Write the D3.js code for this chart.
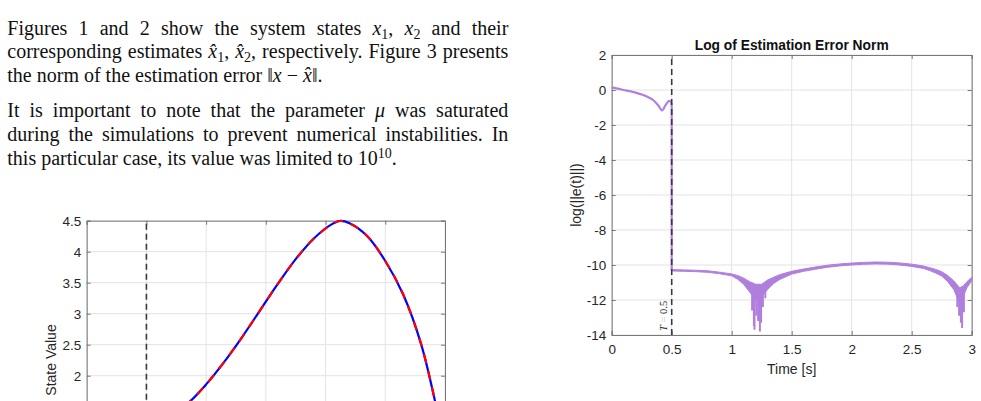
<!DOCTYPE html>
<html>
<head>
<meta charset="utf-8">
<script src="https://cdn.jsdelivr.net/npm/d3@7"></script>
<style>
  body { margin: 0; background: #fff; }
  svg { display: block; }
</style>
</head>
<body>
<div id="vis"></div>
<script>
// ---- data ----
// left figure: state x1 and its estimate (they overlap)
const stateTime = [0.7, 0.85, 1.0, 1.15, 1.3, 1.45, 1.6, 1.75, 1.9, 2.05, 2.12, 2.2, 2.35, 2.5, 2.65, 2.8, 2.92, 3.0];
const stateX1 = [1.36, 1.56, 1.86, 2.22, 2.62, 3.05, 3.48, 3.88, 4.21, 4.44, 4.495, 4.46, 4.25, 3.85, 3.31, 2.51, 1.56, 0.84];
const stateX1Hat = stateX1; // estimate sits on top of the state

const stateYTicks = [0, 0.5, 1, 1.5, 2, 2.5, 3, 3.5, 4, 4.5];
const timeTicks = [0, 0.5, 1, 1.5, 2, 2.5, 3];

// right figure: log of estimation error norm
const preTime = [0, 0.05, 0.1, 0.15, 0.2, 0.25, 0.3, 0.35, 0.39, 0.42, 0.45, 0.48, 0.495, 0.5, 0.5];
const preLogErr = [0.15, 0.08, 0.0, -0.07, -0.15, -0.26, -0.4, -0.6, -0.9, -1.17, -0.85, -0.62, -0.7, -0.95, -10.3];

const bandTime = [0.5, 0.6, 0.7, 0.8, 0.9, 1.0, 1.05, 1.1, 1.15, 1.2, 1.25, 1.3, 1.35, 1.4, 1.5, 1.6, 1.7, 1.8, 1.9, 2.0, 2.1, 2.2, 2.3, 2.4, 2.5, 2.6, 2.65, 2.7, 2.75, 2.8, 2.85, 2.9, 2.93, 2.96, 3.0];
const bandUpper = [-10.26, -10.28, -10.3, -10.33, -10.41, -10.51, -10.6, -10.75, -10.95, -11.1, -11.1, -10.85, -10.7, -10.55, -10.36, -10.23, -10.11, -10.01, -9.94, -9.89, -9.85, -9.83, -9.84, -9.88, -9.95, -10.06, -10.15, -10.25, -10.38, -10.6, -10.9, -11.3, -11.2, -10.95, -10.7];
const bandLower = [-10.34, -10.36, -10.38, -10.42, -10.5, -10.62, -10.82, -11.1, -11.55, -12.0, -11.8, -11.4, -11.05, -10.83, -10.52, -10.36, -10.24, -10.13, -10.05, -10.0, -9.96, -9.94, -9.95, -10.0, -10.08, -10.2, -10.32, -10.46, -10.63, -10.95, -11.4, -12.2, -11.8, -11.3, -10.9];

const spikeTime = [1.17, 1.185, 1.19, 1.205, 1.22, 1.235, 1.245, 1.26, 1.28, 2.88, 2.895, 2.91, 2.92, 2.935];
const spikeTop = [-11.4, -11.6, -11.6, -11.6, -11.5, -11.5, -11.4, -11.2, -11.0, -11.6, -11.8, -11.8, -11.8, -11.6];
const spikeLow = [-12.6, -13.5, -13.7, -12.9, -13.2, -13.8, -13.3, -12.4, -11.9, -12.4, -12.9, -13.3, -13.6, -12.7];

const errYTicks = [-14, -12, -10, -8, -6, -4, -2, 0, 2];
const switchTime = 0.5;

// paragraph text, one entry per printed line: [segments, justified]
const paraLines = [
  [[["Figures 1 and 2 show the system states ", "r"], ["x", "i"], ["1", "sub"], [", ", "r"], ["x", "i"], ["2", "sub"], [" and their", "r"]], true],
  [[["corresponding estimates ", "r"], ["x\u0302", "i"], ["1", "sub"], [", ", "r"], ["x\u0302", "i"], ["2", "sub"], [", respectively. Figure 3 presents", "r"]], true],
  [[["the norm of the estimation error \u2016", "r"], ["x", "i"], [" \u2212 ", "r"], ["x\u0302", "i"], ["\u2016.", "r"]], false],
  [[["It is important to note that the parameter ", "r"], ["\u03bc", "i"], [" was saturated", "r"]], true],
  [[["during the simulations to prevent numerical instabilities. In", "r"]], true],
  [[["this particular case, its value was limited to 10", "r"], ["10", "sup"], [".", "r"]], false]
];
const paraBaselines = [35, 58.3, 81.7, 117.3, 140.7, 165];

// ---- drawing ----
const W = 981, H = 401;
const svg = d3.select("#vis").append("svg")
  .attr("width", W).attr("height", H)
  .attr("viewBox", [0, 0, W, H]);

const sans = '"Liberation Sans", Arial, Helvetica, sans-serif';
const serif = '"Liberation Serif", "Times New Roman", serif';
const gridColor = "#e3e3e3";
const boxColor = "#777";
const textColor = "#262626";

// paragraphs
const paraLeft = 7.3, paraRight = 508.3;
paraLines.forEach(([segs, justify], i) => {
  const t = svg.append("text")
    .attr("x", paraLeft).attr("y", paraBaselines[i])
    .attr("font-family", serif).attr("font-size", 20)
    .attr("fill", "#111");
  let shift = 0;
  segs.forEach(([s, kind]) => {
    const ts = t.append("tspan").text(s);
    if (kind === "i") ts.attr("font-style", "italic");
    if (kind === "sub" || kind === "sup") {
      const d = kind === "sub" ? 4 : -7.5;
      ts.attr("font-size", 14).attr("dy", d - shift);
      shift = d;
    } else if (shift !== 0) {
      ts.attr("dy", -shift);
      shift = 0;
    }
  });
  if (justify) {
    const natural = t.node().getComputedTextLength();
    const spaces = segs.map(s => s[0]).join("").split(" ").length - 1;
    t.attr("word-spacing", (paraRight - paraLeft - natural) / spaces);
  }
});

function drawAxes(g, x, y, yTicks) {
  const [x0, x1] = x.range();
  const [y0, y1] = y.range(); // y0 bottom, y1 top
  const fmt = d => String(d);

  // grid
  g.append("g").selectAll("line").data(timeTicks).join("line")
    .attr("x1", d => x(d)).attr("x2", d => x(d))
    .attr("y1", y0).attr("y2", y1)
    .attr("stroke", gridColor);
  g.append("g").selectAll("line").data(yTicks).join("line")
    .attr("x1", x0).attr("x2", x1)
    .attr("y1", d => y(d)).attr("y2", d => y(d))
    .attr("stroke", gridColor);

  // axes with inward ticks on all four sides
  g.append("g").attr("transform", `translate(0,${y0})`)
    .call(d3.axisBottom(x).tickValues(timeTicks).tickSize(-4).tickPadding(9).tickFormat(fmt));
  const ay = g.append("g").attr("transform", `translate(${x0},0)`)
    .call(d3.axisLeft(y).tickValues(yTicks).tickSize(-4).tickPadding(5.5).tickFormat(fmt));
  g.append("g").attr("transform", `translate(0,${y1})`)
    .call(d3.axisTop(x).tickValues(timeTicks).tickSize(-4).tickFormat(""));
  g.append("g").attr("transform", `translate(${x1},0)`)
    .call(d3.axisRight(y).tickValues(yTicks).tickSize(-4).tickFormat(""));

  g.selectAll(".domain").attr("stroke", boxColor);
  g.selectAll(".tick line").attr("stroke", boxColor);
  g.selectAll(".tick text")
    .attr("fill", textColor)
    .style("font-size", "13.5px")
    .style("font-family", sans);
  ay.selectAll(".tick text").attr("dy", "0.35em");
}

// ---------- left figure ----------
const xL = d3.scaleLinear().domain([0, 3]).range([86.7, 445]);
const yL = d3.scaleLinear().domain([0, 4.5]).range([499.7, 220.7]);
const gL = svg.append("g");
drawAxes(gL, xL, yL, stateYTicks);

gL.append("line")
  .attr("x1", xL(switchTime)).attr("x2", xL(switchTime))
  .attr("y1", yL.range()[0]).attr("y2", yL.range()[1])
  .attr("stroke", "#3a3a3a").attr("stroke-width", 1.6)
  .attr("stroke-dasharray", "6,4");

const lineL = d3.line()
  .x((d, i) => xL(stateTime[i]))
  .y(d => yL(d))
  .curve(d3.curveCatmullRom.alpha(0.5));

gL.append("path").datum(stateX1)
  .attr("d", lineL).attr("fill", "none")
  .attr("stroke", "#0000ff").attr("stroke-width", 2.2);
gL.append("path").datum(stateX1Hat)
  .attr("d", lineL).attr("fill", "none")
  .attr("stroke", "#ff0000").attr("stroke-width", 2.2)
  .attr("stroke-dasharray", "9,8");

gL.append("text")
  .attr("transform", `translate(56,360) rotate(-90)`)
  .attr("text-anchor", "middle")
  .attr("font-family", sans).attr("font-size", 14)
  .attr("fill", textColor)
  .text("State Value");

// ---------- right figure ----------
const xR = d3.scaleLinear().domain([0, 3]).range([611.7, 971.7]);
const yR = d3.scaleLinear().domain([-14, 2]).range([335, 55]);
const gR = svg.append("g");
drawAxes(gR, xR, yR, errYTicks);

const purple = "#b07fdd";

gR.append("path").datum(preLogErr)
  .attr("d", d3.line().x((d, i) => xR(preTime[i])).y(d => yR(d)).curve(d3.curveMonotoneX))
  .attr("fill", "none").attr("stroke", purple).attr("stroke-width", 2.2)
  .attr("stroke-linejoin", "round");

const bandArea = d3.area()
  .x((d, i) => xR(bandTime[i]))
  .y0((d, i) => yR(bandLower[i]))
  .y1(d => yR(d));
gR.append("path").datum(bandUpper)
  .attr("d", bandArea)
  .attr("fill", purple).attr("stroke", purple).attr("stroke-width", 1)
  .attr("stroke-linejoin", "round");

gR.append("g").selectAll("line").data(spikeTime).join("line")
  .attr("x1", d => xR(d)).attr("x2", d => xR(d))
  .attr("y1", (d, i) => yR(spikeTop[i]))
  .attr("y2", (d, i) => yR(spikeLow[i]))
  .attr("stroke", purple).attr("stroke-width", 2);

gR.append("line")
  .attr("x1", xR(switchTime)).attr("x2", xR(switchTime))
  .attr("y1", yR.range()[0]).attr("y2", yR.range()[1])
  .attr("stroke", "#3a3a3a").attr("stroke-width", 1.6)
  .attr("stroke-dasharray", "6,4");

// T = 0.5 label along the dashed line
const tl = gR.append("text")
  .attr("transform", `translate(${xR(switchTime) - 5},331) rotate(-90)`)
  .attr("font-family", serif).attr("font-size", 10.5)
  .attr("fill", "#222");
tl.append("tspan").attr("font-style", "italic").text("T");
tl.append("tspan").attr("fill", "#c8c8c8").text(" = ");
tl.append("tspan").text("0.5");

gR.append("text")
  .attr("x", 791.7).attr("y", 49.5)
  .attr("text-anchor", "middle")
  .attr("font-family", sans).attr("font-weight", "bold").attr("font-size", 13.8)
  .attr("fill", "#111")
  .text("Log of Estimation Error Norm");

gR.append("text")
  .attr("x", 791.7).attr("y", 374)
  .attr("text-anchor", "middle")
  .attr("font-family", sans).attr("font-size", 14)
  .attr("fill", textColor)
  .text("Time [s]");

gR.append("text")
  .attr("transform", `translate(581,195) rotate(-90)`)
  .attr("text-anchor", "middle")
  .attr("font-family", sans).attr("font-size", 14)
  .attr("fill", textColor)
  .text("log(||e(t)||)");
</script>
</body>
</html>
